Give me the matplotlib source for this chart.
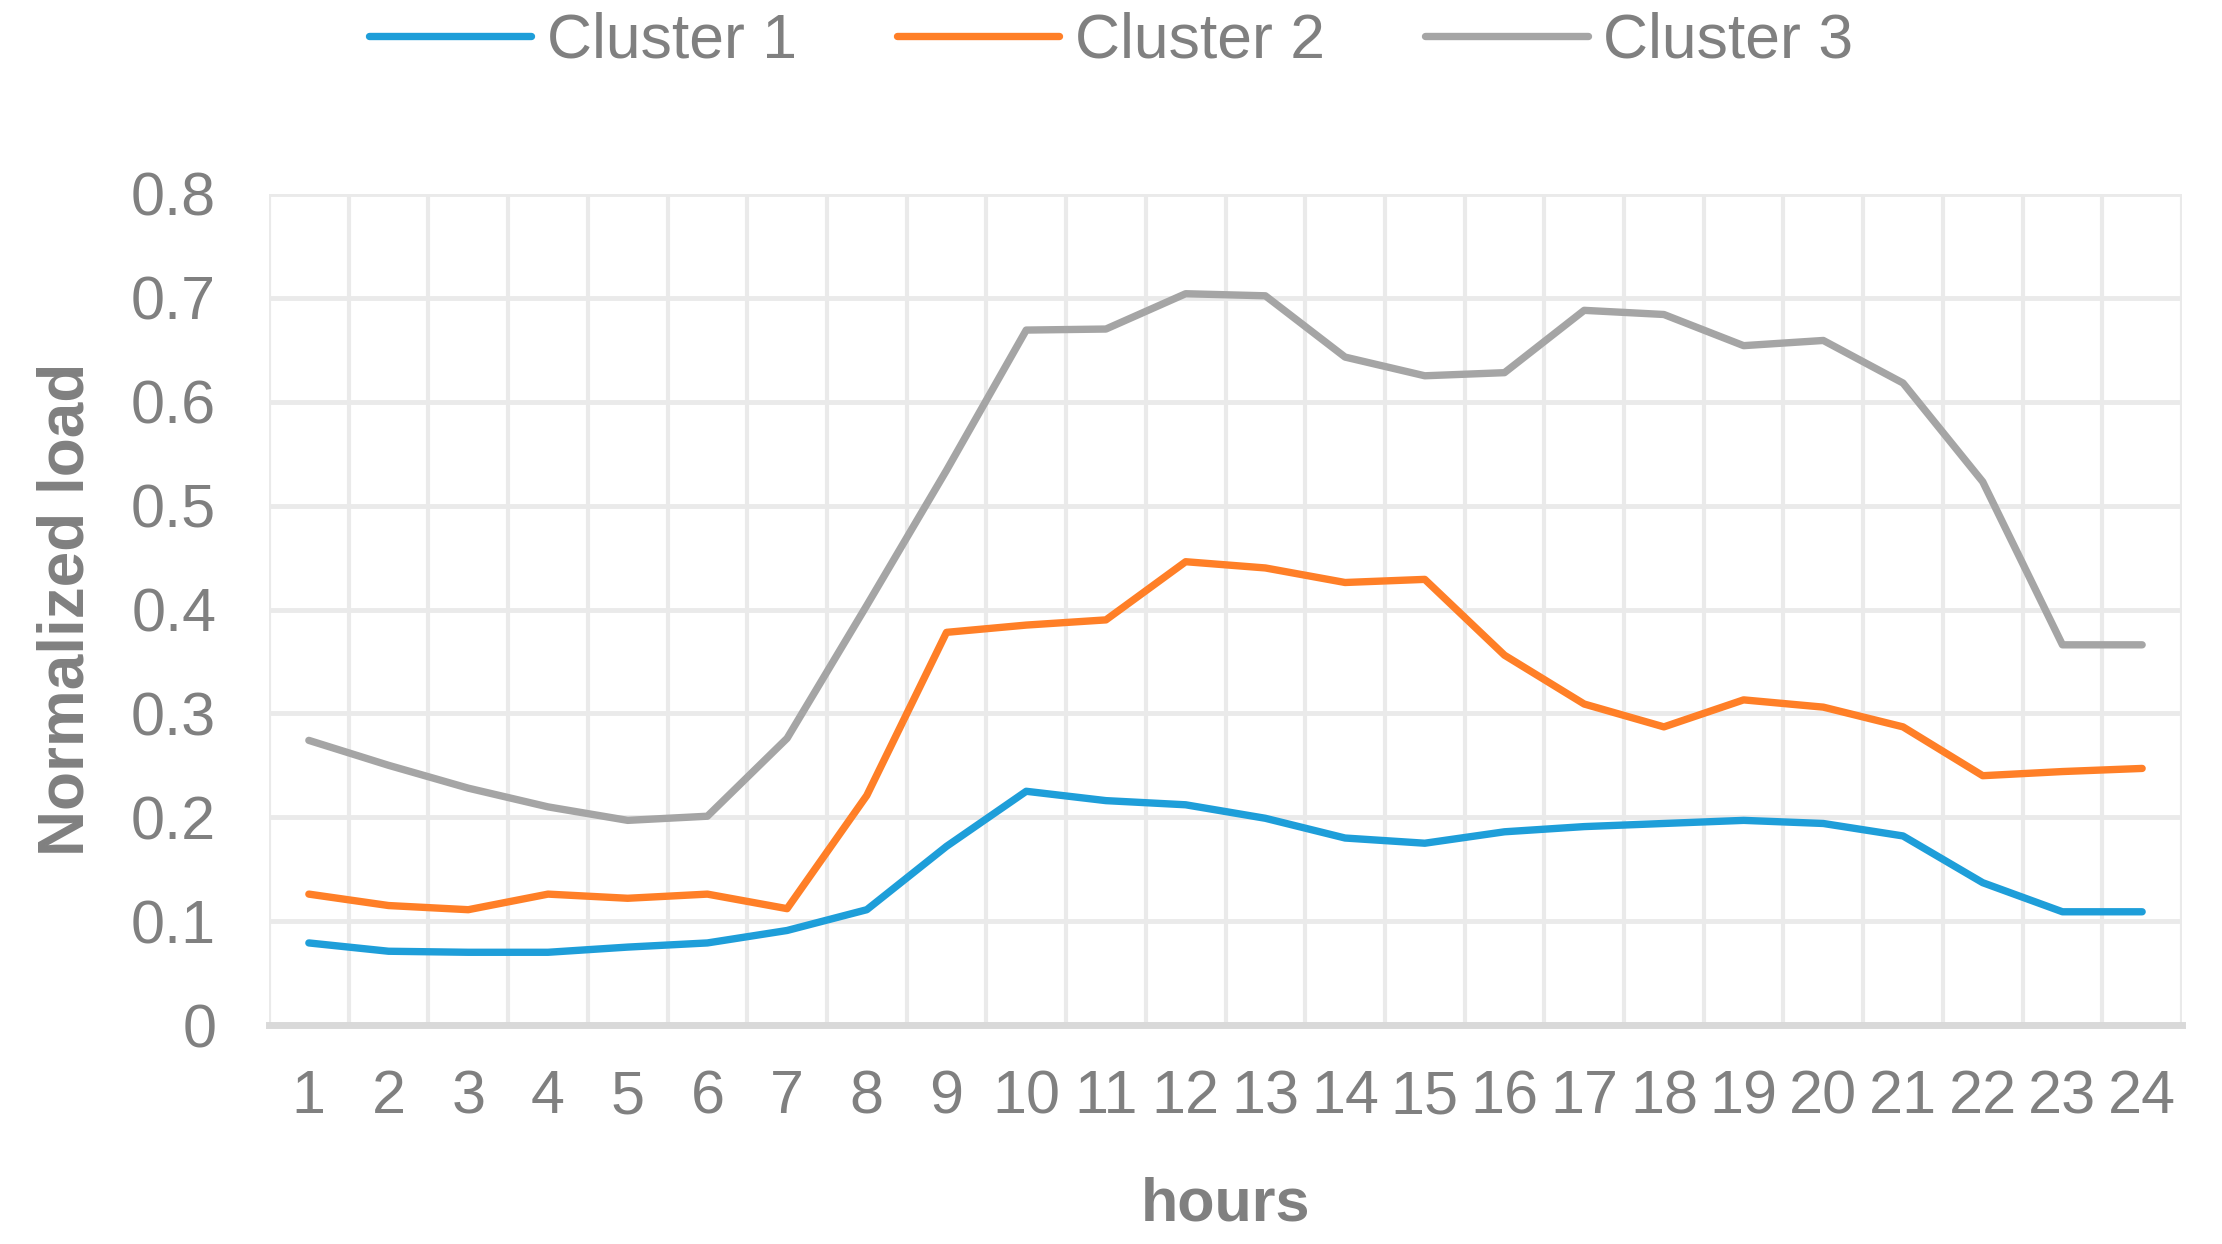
import matplotlib
matplotlib.use("Agg")
import matplotlib.pyplot as plt
from matplotlib import font_manager
import numpy as np

hours = list(range(1, 25))
cluster1 = [0.079, 0.071, 0.070, 0.070, 0.075, 0.079, 0.091, 0.111, 0.172, 0.225, 0.216, 0.212,
            0.199, 0.180, 0.175, 0.186, 0.191, 0.194, 0.197, 0.194, 0.182, 0.137, 0.109, 0.109]
cluster2 = [0.126, 0.115, 0.111, 0.126, 0.122, 0.126, 0.112, 0.221, 0.378, 0.385, 0.390, 0.446,
            0.440, 0.426, 0.429, 0.356, 0.309, 0.287, 0.313, 0.306, 0.287, 0.240, 0.244, 0.247]
cluster3 = [0.274, 0.250, 0.228, 0.210, 0.197, 0.201, 0.276, 0.404, 0.534, 0.669, 0.670, 0.704,
            0.702, 0.643, 0.625, 0.628, 0.688, 0.684, 0.654, 0.659, 0.618, 0.523, 0.366, 0.366]
series_names = ["Cluster 1", "Cluster 2", "Cluster 3"]
y_ticks = [0, 0.1, 0.2, 0.3, 0.4, 0.5, 0.6, 0.7, 0.8]
y_tick_labels = ["0", "0.1", "0.2", "0.3", "0.4", "0.5", "0.6", "0.7", "0.8"]

avail = {f.name for f in font_manager.fontManager.ttflist}
light_font = "Liberation Sans Narrow" if "Liberation Sans Narrow" in avail else "Liberation Sans"
bold_font = "Liberation Sans"

colors = ["#1E9ED9", "#FF7F27", "#A5A5A5"]
text_color = "#808080"

fig = plt.figure(figsize=(22.22, 12.44), dpi=100)
ax = fig.add_axes([269/2222, 1 - 1025/1244, (2182-269)/2222, (1025-194)/1244])

for vals, name, c in zip([cluster1, cluster2, cluster3], series_names, colors):
    ax.plot(hours, vals, color=c, lw=5.3, label=name, solid_capstyle="round",
            solid_joinstyle="round", zorder=3)

ax.set_xlim(0.5, 24.5)
ax.set_ylim(0, 0.8)
ax.set_yticks(y_ticks)
ax.set_yticklabels(y_tick_labels)
ax.set_xticks(hours)
ax.set_xticklabels([str(h) for h in hours])
ax.set_xticks(np.arange(0.5, 25, 0.5), minor=True)

ax.grid(True, which="minor", axis="x", color="#EAEAEA", lw=3, zorder=0)
ax.grid(True, which="major", axis="y", color="#EAEAEA", lw=3.5, zorder=0)
ax.tick_params(which="both", length=0)
ax.tick_params(axis="x", pad=32)
ax.tick_params(axis="y", pad=38)

for s in ["top", "right", "left"]:
    ax.spines[s].set_visible(False)
ax.spines["bottom"].set_color("#D9D9D9")
ax.spines["bottom"].set_linewidth(5)
ax.spines["bottom"].set_zorder(2)

for lab in ax.get_xticklabels() + ax.get_yticklabels():
    lab.set_fontfamily(light_font)
    lab.set_fontsize(44)
    lab.set_color(text_color)

ax.set_xlabel("hours", fontfamily=bold_font, fontweight="bold", fontsize=44,
              color=text_color, labelpad=36)
ax.set_ylabel("Normalized load", fontfamily=bold_font, fontweight="bold", fontsize=46,
              color=text_color, labelpad=25)

leg = ax.legend(loc="center", bbox_to_anchor=(0.5, (1244-41)/1244), bbox_transform=fig.transFigure,
                ncol=3, frameon=False, handlelength=2.6, handletextpad=0.25, columnspacing=1.6,
                prop={"family": light_font, "size": 45})
for t in leg.get_texts():
    t.set_color(text_color)

fig.savefig("out.png", dpi=100, facecolor="white")
